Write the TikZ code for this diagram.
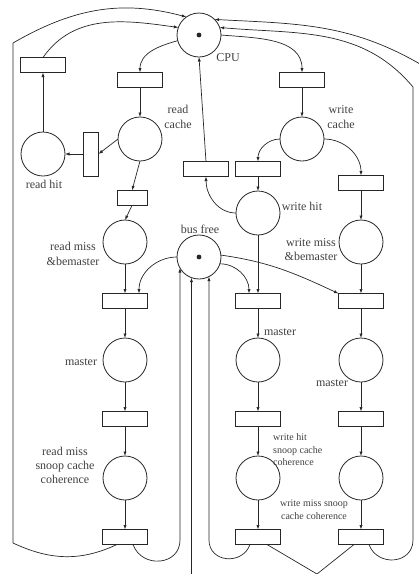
\documentclass[tikz,border=0pt]{standalone}
\usepackage{fontspec}
\setmainfont{Liberation Serif}
\usetikzlibrary{arrows.meta,positioning}

\begin{document}
\begin{tikzpicture}[
  x=1pt,y=-1pt,
  node distance=29.5pt,
  place/.style={circle,draw=black!85,line width=0.8pt,minimum size=44pt,inner sep=0pt,outer sep=0pt},
  trans/.style={rectangle,draw=black!85,line width=0.8pt,minimum width=45pt,minimum height=15pt,inner sep=0pt,outer sep=0pt},
  vtrans/.style={trans,minimum width=15pt,minimum height=44pt},
  lbl/.style={text=black!75,font=\fontsize{12}{15}\selectfont,align=center,inner sep=0pt},
  slbl/.style={lbl,font=\fontsize{10}{12.5}\selectfont},
  arr/.style={draw=black!85,line width=0.7pt,-{Latex[length=4.5pt,width=3.2pt]}},
  wire/.style={draw=black!85,line width=0.7pt}
]
\useasboundingbox (0,0) rectangle (419,574);
\node[place] (cpu) at (199,35) {};
\node[place] (bus) at (199,257) {};
\fill[black!85] (cpu) circle (2.4pt);
\fill[black!85] (bus) circle (2.4pt);
\node[trans] (tread) at (140,80) {};
\node[trans] (twrite) at (302,80) {};
\node[place,below=of tread] (rc) {};
\node[place,below=of twrite] (wc) {};
\node[trans] (tret) at (43,65) {};
\node[place] (rh) at (43,154) {};
\node[vtrans] (trh) at (91,154) {};
\node[trans,minimum width=30pt] (trm) at (132,198) {};
\node[place] (rmb) at (125,242) {};
\node[trans] (twh) at (206,169) {};
\node[trans] (twl) at (258,169) {};
\node[trans] (twr) at (361,183) {};
\node[place] (wh) at (258,213) {};
\node[place,below=of twr] (wmb) {};
\node[trans,below=of rmb] (tla) {};
\node[trans] (tma) at (tla -| wh) {};
\node[trans,below=of wmb] (tra) {};
\foreach \c in {l,m,r} {
  \node[place,below=of t\c a] (p\c a) {};
  \node[trans,below=of p\c a] (t\c b) {};
  \node[place,below=of t\c b] (p\c b) {};
  \node[trans,below=of p\c b] (t\c c) {};
}

\node[lbl] (lcpu) at (228,58) {CPU};
\node[lbl] (lrc) at (178,117) {read\\cache};
\node[lbl] (lwc) at (341,117) {write\\cache};
\node[lbl] (lrh) at (44,184) {read hit};
\node[lbl] (lrmb) at (73,254) {read miss\\\&bemaster};
\node[lbl] (lbus) at (200,229) {bus free};
\node[lbl] (lwh) at (302,206) {write hit};
\node[lbl,font=\fontsize{12}{14}\selectfont] (lwmb) at (311,250) {write miss\\\&bemaster};
\node[lbl] (lpla) at (81,362) {master};
\node[lbl] (lpma) at (280,332) {master};
\node[lbl] (lpra) at (332,383) {master};
\node[lbl,font=\fontsize{12}{14}\selectfont] (lplb) at (65,465) {read miss\\snoop cache\\coherence};
\node[slbl,anchor=west,align=left] (lpmb) at (273,450) {write hit\\snoop cache\\coherence};
\node[slbl,font=\fontsize{10}{13}\selectfont] (lprb) at (314,510) {write miss snoop\\cache coherence};

\coordinate (lbot) at (13,543);
\coordinate (ltop) at (13,43);
\coordinate (lloop) at (180,540);
\coordinate (mloop) at (209,540);
\coordinate (vtip) at (317,574);
\coordinate (rbot) at (413,540);
\coordinate (rtop) at (413,87);
\coordinate (rout) at (420,64);
\coordinate (bin) at (191.5,574);

\draw[arr] (cpu.195) to[out=195,in=90] (tread.north);
\draw[arr] (cpu.east) to[out=-5,in=90] (twrite.north);
\draw[arr] (tread) -- (rc);
\draw[arr] (twrite) -- (wc);
\draw[arr] (rc.west) -- (trh.east);
\draw[arr] (trh) -- (rh);
\draw[arr] (rh) -- (tret);
\draw[arr] (tret.north) to[out=55,in=172] (cpu.160);
\draw[arr] (rc.south) -- (trm.north);
\draw[arr] (trm.south) -- (rmb.north);
\draw[arr] (rmb) -- (tla);
\draw[arr] (wc.west) to[out=180,in=90] (twl.north);
\draw[arr] (wc.east) to[out=0,in=90] (twr.north);
\draw[arr] (twl) -- (wh);
\draw[arr] (wh.west) to[out=180,in=-90] (twh.south);
\draw[arr] (twh.north) -- (cpu.south);
\draw[arr] (wh) -- (tma);
\draw[arr] (twr) -- (wmb);
\draw[arr] (wmb) -- (tra);
\draw[arr] (bus.west) to[out=180,in=90] ([xshift=14pt]tla.north);
\draw[arr] (bus.-18) to[out=0,in=90] ([xshift=-9pt]tma.north);
\draw[arr] (bus.5) to[out=-8,in=155] (tra.north west);
\foreach \c in {l,m,r} {
  \draw[arr] (t\c a) -- (p\c a);
  \draw[arr] (p\c a) -- (t\c b);
  \draw[arr] (t\c b) -- (p\c b);
  \draw[arr] (p\c b) -- (t\c c);
}

\draw[arr] ([xshift=-8pt]tlc.south) to[out=205,in=-25] (lbot) -- (ltop) to[out=30,in=165] (cpu.125);
\draw[arr] ([xshift=8pt]tlc.south) to[out=-70,in=-90,looseness=1.4] (lloop) -- (bus.210);
\draw[arr] ([xshift=-8pt]tmc.south) to[out=-110,in=-90,looseness=1.4] (mloop) -- (bus.297);
\draw[arr] (bin) -- (bus.250);
\draw[wire] ([xshift=9pt]tmc.south) -- (vtip) -- ([xshift=-7pt]trc.south);
\draw[arr] ([xshift=8pt]trc.south) to[out=-70,in=-90,looseness=1.4] (rbot) -- (rtop) to[out=130,in=-5] (cpu.20);
\draw[arr] (rout) to[out=150,in=-3] (cpu.45);
\end{tikzpicture}
\end{document}
